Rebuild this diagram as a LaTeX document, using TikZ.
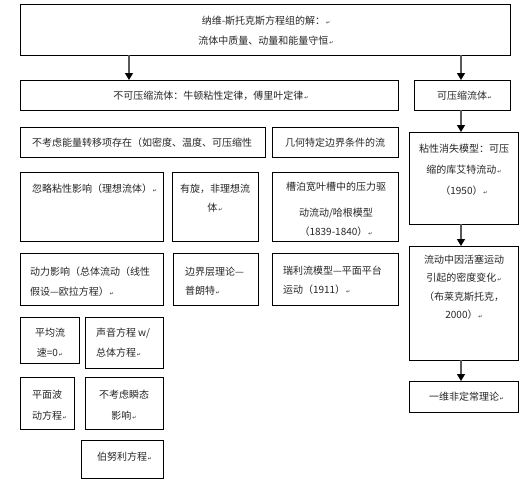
\documentclass[tikz,border=0pt]{standalone}
\usepackage{fontspec}
\newfontfamily\cjk{Noto Sans CJK SC}
\newfontfamily\symf{DejaVu Sans}
\newcommand\pmk{{\symf\fontsize{5}{5}\selectfont\,↵}}
\usetikzlibrary{arrows.meta,fit}
\tikzset{
  bx/.style={draw=black, line width=0.9pt, inner sep=0pt, outer sep=0pt},
  txt/.style={inner sep=0pt, outer sep=0pt, font=\cjk\fontsize{10}{19.5}\selectfont, text=black!85},
  arr/.style={draw=black!65, line width=1.3pt, -{Triangle[length=7pt,width=8pt,color=black]}},
}
\begin{document}
\begin{tikzpicture}[x=1pt,y=-1pt]
\useasboundingbox (0,0) rectangle (521,485);
% boxes
\node[bx, fit={(20,4) (510,55)}] (top) {};
\node[bx, fit={(20,80) (398,110)}] (incomp) {};
\node[bx, fit={(414,80) (510,110)}] (comp) {};
\node[bx, fit={(20,127) (265,157)}] (nocons) {};
\node[bx, fit={(272,127) (398,157)}] (geom) {};
\node[bx, fit={(20,172) (163,241)}] (ignore) {};
\node[bx, fit={(172,172) (258,241)}] (rot) {};
\node[bx, fit={(272,172) (398,241)}] (slot) {};
\node[bx, fit={(20,253) (163,305)}] (dyn) {};
\node[bx, fit={(173,253) (258,305)}] (bl) {};
\node[bx, fit={(272,253) (398,305)}] (ray) {};
\node[bx, fit={(409,132) (518,224)}] (visc) {};
\node[bx, fit={(409,246) (518,360)}] (piston) {};
\node[bx, fit={(409,381) (518,412)}] (oned) {};
\node[bx, fit={(20,317) (79,363)}] (mean) {};
\node[bx, fit={(85,317) (163,368)}] (sound) {};
\node[bx, fit={(20,377) (74,429)}] (plane) {};
\node[bx, fit={(85,377) (163,429)}] (trans) {};
\node[bx, fit={(81,440) (163,478)}] (bern) {};
% texts
\node[txt, anchor=north, align=center] (ttop) at (266,16.5) {纳维-斯托克斯方程组的解：\pmk\\流体中质量、动量和能量守恒\pmk};
\node[txt, anchor=center] (tincomp) at (211,96) {不可压缩流体：牛顿粘性定律，傅里叶定律\pmk};
\node[txt, anchor=west] (tcomp) at (437,96) {可压缩流体\pmk};
\node[txt, anchor=west] (tnocons) at (32,143) {不考虑能量转移项存在（如密度、温度、可压缩性};
\node[txt, anchor=center] (tgeom) at (335,143) {几何特定边界条件的流};
\node[txt, anchor=west] (tignore) at (32,189) {忽略粘性影响（理想流体）\pmk};
\node[txt, anchor=north, align=center] (trot) at (215,184) {有旋，非理想流\\体\pmk};
\node[txt, anchor=north, align=center] (tslot) at (336,182) {槽泊宽叶槽中的压力驱\\[6pt]动流动/哈根模型\\（1839-1840）\pmk};
\node[txt, anchor=north west, align=left] (tdyn) at (30,267) {动力影响（总体流动（线性\\假设—欧拉方程）\pmk};
\node[txt, anchor=north west, align=left] (tbl) at (185,267) {边界层理论—\\普朗特\pmk};
\node[txt, anchor=north west, align=left] (tray) at (283,266) {瑞利流模型—平面平台\\运动（1911）\pmk};
\node[txt, anchor=north, align=center, font=\cjk\fontsize{10}{21}\selectfont] (tvisc) at (464,144) {粘性消失模型：可压\\缩的库艾特流动\pmk\\（1950）\pmk};
\node[txt, anchor=north, align=center, font=\cjk\fontsize{10}{18.5}\selectfont] (tpiston) at (464,255) {流动中因活塞运动\\引起的密度变化\pmk\\（布莱克斯托克，\\2000）\pmk};
\node[txt, anchor=west] (toned) at (429,397) {一维非定常理论\pmk};
\node[txt, anchor=north, align=center, font=\cjk\fontsize{10}{20}\selectfont] (tmean) at (50,328) {平均流\\速=0\pmk};
\node[txt, anchor=north west, align=left, font=\cjk\fontsize{10}{20}\selectfont] (tsound) at (96,328) {声音方程 w/\\总体方程\pmk};
\node[txt, anchor=north west, align=left, font=\cjk\fontsize{10}{21}\selectfont] (tplane) at (32,390) {平面波\\动方程\pmk};
\node[txt, anchor=north, align=center, font=\cjk\fontsize{10}{21}\selectfont] (ttrans) at (124,390) {不考虑瞬态\\影响\pmk};
\node[txt, anchor=west] (tbern) at (97,457) {伯努利方程\pmk};
% arrows
\coordinate (ca) at (129,0);
\coordinate (cb) at (461,0);
\draw[arr] (ca |- top.south) -- (ca |- incomp.north);
\draw[arr] (cb |- top.south) -- (cb |- comp.north);
\draw[arr] (cb |- comp.south) -- (cb |- visc.north);
\draw[arr] (cb |- visc.south) -- (cb |- piston.north);
\draw[arr] (cb |- piston.south) -- (cb |- oned.north);
\end{tikzpicture}
\end{document}
